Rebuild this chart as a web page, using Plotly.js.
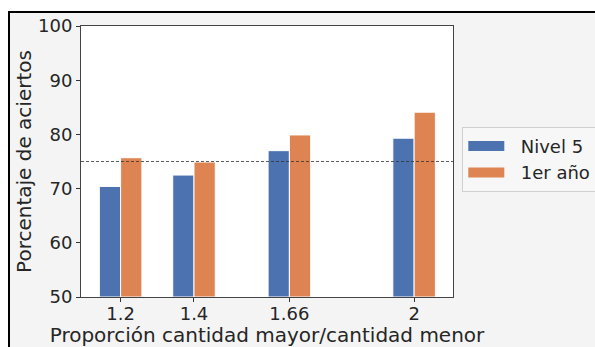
<!DOCTYPE html>
<html>
<head>
<meta charset="utf-8">
<script src="https://cdn.plot.ly/plotly-3.0.1.min.js"></script>
<style>
  html, body { margin: 0; padding: 0; background: #ffffff; width: 595px; height: 347px; overflow: hidden; }
  #frame {
    position: absolute; left: 8px; top: 11px;
    width: 587px; height: 336px;
    border-top: 2px solid #000; border-left: 2px solid #000;
    box-sizing: border-box; background: #f4f4f4;
  }
  #chart { width: 585px; height: 334px; }
</style>
</head>
<body>
<div id="frame"><div id="chart"></div></div>
<script>
// Proporción entre cantidades (eje x) y porcentaje de aciertos por grupo
const proporciones = [1.2, 1.4, 1.66, 2];
const etiquetasX = ['1.2', '1.4', '1.66', '2'];
const nivel5 = [70.4, 72.5, 77.0, 79.3];
const primerAnio = [75.7, 74.9, 79.9, 84.1];
const grupos = ['Nivel 5', '1er año'];
const referencia = 75;
const baseY = 50;

const anchoBarra = 0.058;
const azul = '#4C72B0';
const naranja = '#DD8452';
const fuente = 'DejaVu Sans, sans-serif';
const texto = '#262626';
const sep = '\u00a0\u00a0';

const traces = [
  {
    type: 'bar', name: grupos[0], x: proporciones, y: nivel5.map(v => v - baseY),
    base: baseY, width: anchoBarra, offset: -anchoBarra,
    marker: { color: azul, line: { color: '#ffffff', width: 1 } },
    showlegend: false
  },
  {
    type: 'bar', name: grupos[1], x: proporciones, y: primerAnio.map(v => v - baseY),
    base: baseY, width: anchoBarra, offset: 0,
    marker: { color: naranja, line: { color: '#ffffff', width: 1 } },
    showlegend: false
  },
  // entradas de la leyenda con parche ancho
  {
    type: 'scatter', mode: 'lines', name: sep + grupos[0], x: [null], y: [null],
    line: { color: azul, width: 12 }
  },
  {
    type: 'scatter', mode: 'lines', name: sep + grupos[1], x: [null], y: [null],
    line: { color: naranja, width: 12 }
  }
];

const layout = {
  width: 585, height: 334,
  margin: { l: 71, r: 142, t: 13, b: 50, autoexpand: false },
  paper_bgcolor: '#f4f4f4',
  plot_bgcolor: '#ffffff',
  font: { family: fuente, color: texto, size: 18 },
  barmode: 'overlay',
  showlegend: true,
  xaxis: {
    range: [1.092, 2.106],
    tickvals: proporciones, ticktext: etiquetasX,
    ticks: 'outside', ticklen: 4, tickcolor: '#333', tickwidth: 1,
    ticklabelstandoff: -4,
    automargin: false,
    showgrid: false, zeroline: false,
    showline: true, mirror: true, linecolor: '#444', linewidth: 1,
    tickfont: { size: 18, color: texto },
    title: { text: 'Proporción cantidad mayor/cantidad menor', font: { size: 20, color: texto } }
  },
  yaxis: {
    range: [50, 100], dtick: 10, tick0: 50,
    ticks: 'outside', ticklen: 4, tickcolor: '#333', tickwidth: 1,
    automargin: false,
    showgrid: false, zeroline: false,
    showline: true, mirror: true, linecolor: '#444', linewidth: 1,
    tickfont: { size: 18, color: texto },
    title: { text: 'Porcentaje de aciertos', font: { size: 20, color: texto } }
  },
  legend: {
    x: 1.025, xanchor: 'left', y: 0.628, yanchor: 'top',
    bgcolor: '#f7f7f7', bordercolor: '#d0d0d0', borderwidth: 1,
    font: { size: 18, color: texto },
    itemwidth: 36
  },
  shapes: [{
    type: 'line', xref: 'paper', x0: 0, x1: 1, yref: 'y', y0: referencia, y1: referencia,
    line: { color: '#333333', width: 0.8, dash: '3px,2px' }
  }]
};

Plotly.newPlot('chart', traces, layout, { staticPlot: true, displayModeBar: false });
</script>
</body>
</html>
